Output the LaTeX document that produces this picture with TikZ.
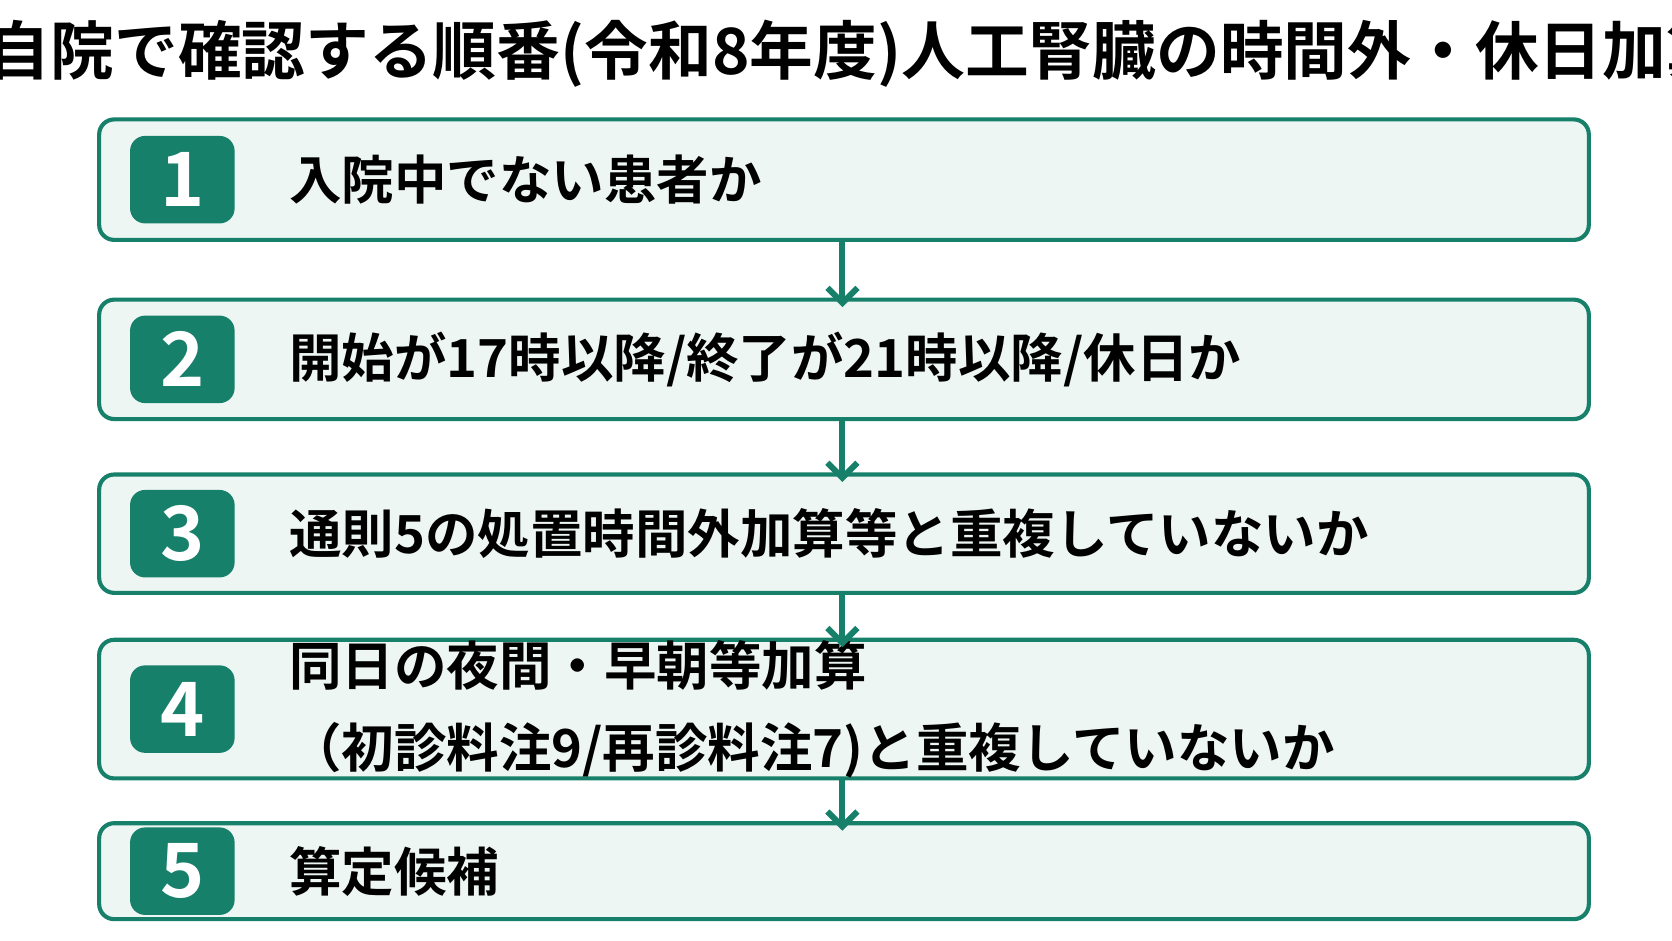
\documentclass[tikz,border=0pt]{standalone}
\usepackage{fontspec}
\setmainfont{Noto Sans CJK JP}[BoldFont={* Bold}]
\usetikzlibrary{positioning,arrows.meta}
\definecolor{stepgreen}{HTML}{17806A}
\definecolor{pale}{HTML}{EEF6F4}
\begin{document}
\begin{tikzpicture}[x=0.01cm,y=-0.01cm,
        stepbox/.style={draw=stepgreen, line width=1.1pt, fill=pale, rounded corners=4pt},
        badge/.style={fill=stepgreen, rounded corners=4pt, minimum width=0.98cm, minimum height=0.82cm, text=white, font=\fontsize{20}{20}\selectfont\bfseries},
        steptext/.style={anchor=west, font=\fontsize{14}{22}\selectfont\bfseries, align=left},
        every edge/.style={draw=stepgreen, line width=1.6pt, ->, >={Straight Barb[length=4pt,width=8pt]}}
        ]
    \useasboundingbox (0,0) rectangle (1568,882);
    \node[font=\fontsize{17}{17}\selectfont\bfseries] (title) at (805,50) {自院で確認する順番(令和8年度)人工腎臓の時間外・休日加算};
    \def\previ{0}
    \foreach \top/\bot/\txt [count=\i, remember=\i as \previ] in {
        112/225/{入院中でない患者か},
        281/393/{開始が17時以降/終了が21時以降/休日か},
        445/556/{通則5の処置時間外加算等と重複していないか},
        600/730/{同日の夜間・早朝等加算\\（初診料注9/再診料注7)と重複していないか},
        772/862/{算定候補}} {
        \draw[stepbox] (93,\top) rectangle (1490,\bot);
        \node[badge] (b\i) at (171,{(\top+\bot)/2}) {\i};
        \node[steptext, right=0.38cm of b\i] (t\i) {\txt};
        \coordinate (top\i) at (790,\top);
        \coordinate (bot\i) at (790,\bot);
        % arrow from the previous step
        \ifnum \i > 1
        \path (bot\previ) edge ([yshift=-2pt]top\i);
        \fi
    }
\end{tikzpicture}
\end{document}
